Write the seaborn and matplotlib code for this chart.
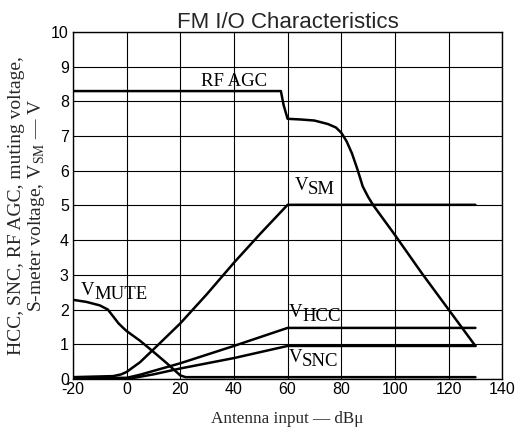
import seaborn as sns
import matplotlib.pyplot as plt
import pandas as pd

# valores (dBu -> V)
rfagc_x = [-20, 0, 20, 40, 57.5, 58.5, 60, 65, 70, 75, 78, 80, 82, 84, 86, 88, 90, 92, 100, 110, 120, 130]
rfagc_y = [8.3, 8.3, 8.3, 8.3, 8.3, 7.9, 7.5, 7.48, 7.45, 7.35, 7.25, 7.1, 6.85, 6.5, 6.05, 5.55, 5.25, 5.0, 4.15, 3.05, 2.0, 0.95]

vsm_x = [-20, -5, -2, 0, 5, 10, 20, 30, 40, 50, 60, 130]
vsm_y = [0.05, 0.08, 0.13, 0.2, 0.48, 0.85, 1.6, 2.45, 3.35, 4.2, 5.02, 5.02]

vmute_x = [-20, -15, -10, -7, -5, -3, -1, 0, 5, 10, 15, 20, 22, 130]
vmute_y = [2.28, 2.22, 2.12, 2.0, 1.8, 1.6, 1.45, 1.38, 1.1, 0.78, 0.45, 0.1, 0.05, 0.05]

vhcc_x = [-20, 0, 5, 20, 40, 60, 130]
vhcc_y = [0.02, 0.03, 0.12, 0.45, 0.95, 1.47, 1.47]

vsnc_x = [-20, 2, 10, 20, 40, 60, 130]
vsnc_y = [0.02, 0.02, 0.13, 0.3, 0.6, 0.95, 0.95]

xticks = list(range(-20, 141, 20))
yticks = list(range(0, 11))

# etiquetas de curvas: (texto, subindice, x, y)
etiquetas = [('V', 'SM', 62.5, 5.45),
             ('V', 'MUTE', -17, 2.42),
             ('V', 'HCC', 60.5, 1.79),
             ('V', 'SNC', 60.5, 0.49)]

sns.set_style('white')
plt.rcParams['mathtext.fontset'] = 'custom'
plt.rcParams['mathtext.rm'] = 'Liberation Serif'
plt.rcParams['axes.unicode_minus'] = False
plt.rcParams['font.family'] = ['Liberation Sans', 'DejaVu Sans']

fig, ax = plt.subplots(figsize=(5.21, 4.34), dpi=100)
fig.subplots_adjust(left=0.140, right=0.964, bottom=0.127, top=0.926)

series = [(rfagc_x, rfagc_y), (vsm_x, vsm_y), (vmute_x, vmute_y), (vhcc_x, vhcc_y), (vsnc_x, vsnc_y)]
for xs, ys in series:
    df = pd.DataFrame({'x': xs, 'y': ys})
    sns.lineplot(data=df, x='x', y='y', ax=ax, color='black', linewidth=1.8, sort=False)

ax.set_xlim(-20, 140)
ax.set_ylim(0, 10)
ax.set_xticks(xticks)
ax.set_yticks(yticks)
ax.grid(True, color='black', linewidth=0.8)
for s in ax.spines.values():
    s.set_color('black')
    s.set_linewidth(1.0)
ax.tick_params(length=0, labelsize=11.5, colors='black')
ax.tick_params(axis='x', pad=2)
ax.tick_params(axis='y', pad=3)

ax.set_title('FM I/O Characteristics', fontsize=16, pad=3)
ax.set_xlabel('Antenna input — dBμ', family='Liberation Serif', fontsize=12.3, labelpad=10)
ax.set_ylabel('HCC, SNC, RF AGC, muting voltage,\nS-meter voltage, V$_{\\mathrm{SM}}$ — V',
              family='Liberation Serif', fontsize=14, linespacing=1.05, labelpad=3)

serif = dict(family='Liberation Serif', fontsize=13.5, color='black')
ax.text(40, 8.45, 'RF AGC', ha='center', va='baseline', **serif)
for v, sub, x, y in etiquetas:
    ax.text(x, y, v, ha='left', va='baseline', **serif)
    ax.annotate(sub, xy=(x, y), xytext=(9.5, -3), textcoords='offset points',
                ha='left', va='baseline', **serif)

plt.savefig('out.png', dpi=100)
